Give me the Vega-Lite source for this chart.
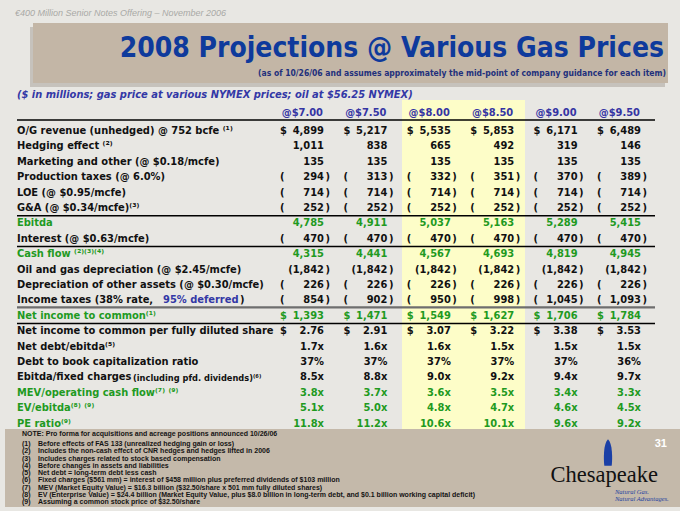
{
  "$schema": "https://vega.github.io/schema/vega-lite/v6.json",
  "width": 680,
  "height": 511,
  "autosize": "none",
  "padding": 0,
  "background": "#e8e7e3",
  "config": {"view": {"stroke": null}, "axis": {"disable": true}, "text": {"font": "DejaVu Sans Condensed, Roboto, sans-serif"}},
  "datasets": {
    "rows": [
      {"r":"r01","label":"O/G revenue (unhedged) @ 752 bcfe ⁽¹⁾","kind":"item","pre":"$","post":"","p700":"4,899","p750":"5,217","p800":"5,535","p850":"5,853","p900":"6,171","p950":"6,489"},
      {"r":"r02","label":"Hedging effect ⁽²⁾","kind":"item","pre":"","post":"","p700":"1,011","p750":"838","p800":"665","p850":"492","p900":"319","p950":"146"},
      {"r":"r03","label":"Marketing and other (@ $0.18/mcfe)","kind":"item","pre":"","post":"","p700":"135","p750":"135","p800":"135","p850":"135","p900":"135","p950":"135"},
      {"r":"r04","label":"Production taxes (@ 6.0%)","kind":"item","pre":"(","post":")","p700":"294","p750":"313","p800":"332","p850":"351","p900":"370","p950":"389"},
      {"r":"r05","label":"LOE (@ $0.95/mcfe)","kind":"item","pre":"(","post":")","p700":"714","p750":"714","p800":"714","p850":"714","p900":"714","p950":"714"},
      {"r":"r06","label":"G&A (@ $0.34/mcfe)⁽³⁾","kind":"item","pre":"(","post":")","p700":"252","p750":"252","p800":"252","p850":"252","p900":"252","p950":"252"},
      {"r":"r07","label":"Ebitda","kind":"total","pre":"","post":"","p700":"4,785","p750":"4,911","p800":"5,037","p850":"5,163","p900":"5,289","p950":"5,415"},
      {"r":"r08","label":"Interest (@ $0.63/mcfe)","kind":"item","pre":"(","post":")","p700":"470","p750":"470","p800":"470","p850":"470","p900":"470","p950":"470"},
      {"r":"r09","label":"Cash flow ⁽²⁾⁽³⁾⁽⁴⁾","kind":"total","pre":"","post":"","p700":"4,315","p750":"4,441","p800":"4,567","p850":"4,693","p900":"4,819","p950":"4,945"},
      {"r":"r10","label":"Oil and gas depreciation (@ $2.45/mcfe)","kind":"item","pre":"","post":")","p700":"(1,842","p750":"(1,842","p800":"(1,842","p850":"(1,842","p900":"(1,842","p950":"(1,842"},
      {"r":"r11","label":"Depreciation of other assets (@ $0.30/mcfe)","kind":"item","pre":"(","post":")","p700":"226","p750":"226","p800":"226","p850":"226","p900":"226","p950":"226"},
      {"r":"r12","label":"Income taxes (38% rate,","mid":"95% deferred","tail":")","kind":"item","pre":"(","post":")","p700":"854","p750":"902","p800":"950","p850":"998","p900":"1,045","p950":"1,093"},
      {"r":"r13","label":"Net income to common⁽¹⁾","kind":"total","pre":"$","post":"","p700":"1,393","p750":"1,471","p800":"1,549","p850":"1,627","p900":"1,706","p950":"1,784"},
      {"r":"r14","label":"Net income to common per fully diluted share","kind":"item","pre":"$","post":"","p700":"2.76","p750":"2.91","p800":"3.07","p850":"3.22","p900":"3.38","p950":"3.53"},
      {"r":"r15","label":"Net debt/ebitda⁽⁵⁾","kind":"item","pre":"","post":"","p700":"1.7x","p750":"1.6x","p800":"1.6x","p850":"1.5x","p900":"1.5x","p950":"1.5x"},
      {"r":"r16","label":"Debt to book capitalization ratio","kind":"item","pre":"","post":"","p700":"37%","p750":"37%","p800":"37%","p850":"37%","p900":"37%","p950":"36%"},
      {"r":"r17","label":"Ebitda/fixed charges","mid":"(including pfd. dividends)⁽⁶⁾","kind":"item","pre":"","post":"","p700":"8.5x","p750":"8.8x","p800":"9.0x","p850":"9.2x","p900":"9.4x","p950":"9.7x"},
      {"r":"r18","label":"MEV/operating cash flow⁽⁷⁾ ⁽⁹⁾","kind":"total","pre":"","post":"","p700":"3.8x","p750":"3.7x","p800":"3.6x","p850":"3.5x","p900":"3.4x","p950":"3.3x"},
      {"r":"r19","label":"EV/ebitda⁽⁸⁾ ⁽⁹⁾","kind":"total","pre":"","post":"","p700":"5.1x","p750":"5.0x","p800":"4.8x","p850":"4.7x","p900":"4.6x","p950":"4.5x"},
      {"r":"r20","label":"PE ratio⁽⁹⁾","kind":"total","pre":"","post":"","p700":"11.8x","p750":"11.2x","p800":"10.6x","p850":"10.1x","p900":"9.6x","p950":"9.2x"}
    ],
    "cols": [
      {"c":"p700","h":"@$7.00"},{"c":"p750","h":"@$7.50"},{"c":"p800","h":"@$8.00"},
      {"c":"p850","h":"@$8.50"},{"c":"p900","h":"@$9.00"},{"c":"p950","h":"@$9.50"}
    ],
    "notes": [
      {"n":"1","k":"(1)","t":"Before effects of FAS 133 (unrealized hedging gain or loss)"},
      {"n":"2","k":"(2)","t":"Includes the non-cash effect of CNR hedges and hedges lifted in 2006"},
      {"n":"3","k":"(3)","t":"Includes charges related to stock based compensation"},
      {"n":"4","k":"(4)","t":"Before changes in assets and liabilities"},
      {"n":"5","k":"(5)","t":"Net debt = long-term debt less cash"},
      {"n":"6","k":"(6)","t":"Fixed charges ($561 mm) = interest of $458 million plus preferred dividends of $103 million"},
      {"n":"7","k":"(7)","t":"MEV (Market Equity Value) = $16.3 billion ($32.50/share x 501 mm fully diluted shares)"},
      {"n":"8","k":"(8)","t":"EV (Enterprise Value)  = $24.4 billion (Market Equity Value, plus $8.0 billion in long-term debt, and $0.1 billion working capital deficit)"},
      {"n":"9","k":"(9)","t":"Assuming a common stock price of $32.50/share"}
    ],
    "lines": [{"after":"r06"},{"after":"r08"},{"after":"r13"}]
  },
  "resolve": {"scale": {"y": "independent"}},
  "layer": [
    {
      "layer": [
        {
          "data": {"values": [{"band":"title"}]},
          "mark": {"type":"rect","color":"#aaa49c","opacity":0.55,"xOffset":-294,"x2Offset":24,"yOffset":-104,"y2Offset":-44},
          "encoding": {
            "x": {"datum":"p700","type":"ordinal","scale":{"type":"point","domain":["p700","p750","p800","p850","p900","p950"],"range":[324,641],"padding":0}},
            "x2": {"datum":"p950"},
            "y": {"datum":"r01","type":"ordinal","scale":{"type":"point","domain":["r01","r02","r03","r04","r05","r06","r07","r08","r09","r10","r11","r12","r13","r14","r15","r16","r17","r18","r19","r20"],"range":[131,423.5],"padding":0}},
            "y2": {"datum":"r01"}
          }
        },
        {
          "data": {"values": [{"band":"title"}]},
          "mark": {"type":"rect","color":"#c3b6a6","xOffset":-291,"x2Offset":27,"yOffset":-108,"y2Offset":-48},
          "encoding": {"x": {"datum":"p700","type":"ordinal"},"x2": {"datum":"p950"},"y": {"datum":"r01","type":"ordinal"},"y2": {"datum":"r01"}}
        },
        {
          "data": {"values": [{"band":"highlight"}]},
          "mark": {"type":"rect","color":"#fdfdc8","xOffset":-48.8,"x2Offset":10.8,"yOffset":-31,"y2Offset":5.5},
          "encoding": {"x": {"datum":"p800","type":"ordinal"},"x2": {"datum":"p850"},"y": {"datum":"r01","type":"ordinal"},"y2": {"datum":"r20"}}
        },
        {
          "data": {"values": [{"band":"footer"}]},
          "mark": {"type":"rect","color":"#c4b9aa","xOffset":-319,"x2Offset":39,"yOffset":5.5,"y2Offset":83.5},
          "encoding": {"x": {"datum":"p700","type":"ordinal"},"x2": {"datum":"p950"},"y": {"datum":"r20","type":"ordinal"},"y2": {"datum":"r20"}}
        },
        {
          "data": {"values": [{"line":"header"}]},
          "mark": {"type":"rule","color":"#000000","strokeWidth":1.5,"xOffset":-307,"x2Offset":14,"yOffset":-11},
          "encoding": {"x": {"datum":"p700","type":"ordinal"},"x2": {"datum":"p950"},"y": {"datum":"r01","type":"ordinal"}}
        },
        {
          "data": {"name":"lines"},
          "mark": {"type":"rule","color":"#000000","strokeWidth":1.5,"xOffset":-307,"x2Offset":14,"yOffset":7.8},
          "encoding": {"x": {"datum":"p700","type":"ordinal"},"x2": {"datum":"p950"},"y": {"field":"after","type":"ordinal"}}
        },
        {
          "data": {"values": [{"after":"r12"}]},
          "mark": {"type":"rule","color":"#6e6e6e","strokeWidth":2.2,"xOffset":-307,"x2Offset":14,"yOffset":7},
          "encoding": {"x": {"datum":"p700","type":"ordinal"},"x2": {"datum":"p950"},"y": {"field":"after","type":"ordinal"}}
        },
        {
          "data": {"values": [{"t":"€400 Million Senior Notes Offering – November 2006"}]},
          "mark": {"type":"text","align":"left","baseline":"middle","dx":-309,"dy":-118,"fontSize":9,"fontStyle":"italic","font":"Liberation Sans","color":"#a9a9a6"},
          "encoding": {"x": {"datum":"p700","type":"ordinal"},"y": {"datum":"r01","type":"ordinal"},"text": {"field":"t"}}
        },
        {
          "data": {"values": [{"t":"2008 Projections @ Various Gas Prices"}]},
          "mark": {"type":"text","align":"right","baseline":"middle","dx":23,"dy":-82,"fontSize":28,"fontWeight":"bold","color":"#0e3a9c"},
          "encoding": {"x": {"datum":"p950","type":"ordinal"},"y": {"datum":"r01","type":"ordinal"},"text": {"field":"t"}}
        },
        {
          "data": {"values": [{"t":"(as of 10/26/06 and assumes approximately the mid-point of company guidance for each item)"}]},
          "mark": {"type":"text","align":"right","baseline":"middle","dx":25,"dy":-58,"fontSize":8.5,"fontWeight":"bold","color":"#22307c"},
          "encoding": {"x": {"datum":"p950","type":"ordinal"},"y": {"datum":"r01","type":"ordinal"},"text": {"field":"t"}}
        },
        {
          "data": {"values": [{"t":"($ in millions; gas price at various NYMEX prices; oil at $56.25 NYMEX)"}]},
          "mark": {"type":"text","align":"left","baseline":"middle","dx":-307,"dy":-36,"fontSize":11,"fontWeight":"bold","fontStyle":"italic","color":"#3338a6"},
          "encoding": {"x": {"datum":"p700","type":"ordinal"},"y": {"datum":"r01","type":"ordinal"},"text": {"field":"t"}}
        },
        {
          "data": {"name":"cols"},
          "mark": {"type":"text","align":"right","baseline":"middle","dx":-1,"dy":-18,"fontSize":11,"fontWeight":"bold","color":"#3535a3"},
          "encoding": {"x": {"field":"c","type":"ordinal"},"y": {"datum":"r01","type":"ordinal"},"text": {"field":"h"}}
        },
        {
          "data": {"name":"rows"},
          "mark": {"type":"text","align":"left","baseline":"middle","dx":-307,"fontSize":11,"fontWeight":"bold"},
          "encoding": {
            "x": {"datum":"p700","type":"ordinal"},
            "y": {"field":"r","type":"ordinal"},
            "text": {"field":"label"},
            "color": {"field":"kind","type":"nominal","scale":{"domain":["item","total"],"range":["#111111","#1f9a1f"]},"legend":null}
          }
        },
        {
          "data": {"name":"rows"},
          "transform": [{"filter":"datum.r == 'r12'"}],
          "mark": {"type":"text","align":"left","baseline":"middle","dx":-161,"fontSize":11,"fontWeight":"bold","color":"#3338a6"},
          "encoding": {"x": {"datum":"p700","type":"ordinal"},"y": {"field":"r","type":"ordinal"},"text": {"field":"mid"}}
        },
        {
          "data": {"name":"rows"},
          "transform": [{"filter":"datum.r == 'r12'"}],
          "mark": {"type":"text","align":"left","baseline":"middle","dx":-84,"fontSize":11,"fontWeight":"bold","color":"#111111"},
          "encoding": {"x": {"datum":"p700","type":"ordinal"},"y": {"field":"r","type":"ordinal"},"text": {"field":"tail"}}
        },
        {
          "data": {"name":"rows"},
          "transform": [{"filter":"datum.r == 'r17'"}],
          "mark": {"type":"text","align":"left","baseline":"middle","dx":-191,"dy":1,"fontSize":9.2,"fontWeight":"bold","color":"#111111"},
          "encoding": {"x": {"datum":"p700","type":"ordinal"},"y": {"field":"r","type":"ordinal"},"text": {"field":"mid"}}
        },
        {
          "data": {"name":"rows"},
          "transform": [{"fold":["p700","p750","p800","p850","p900","p950"],"as":["c","num"]}],
          "layer": [
            {
              "mark": {"type":"text","align":"left","baseline":"middle","dx":-44,"fontSize":11,"fontWeight":"bold"},
              "encoding": {"x": {"field":"c","type":"ordinal"},"y": {"field":"r","type":"ordinal"},"text": {"field":"pre"},
                "color": {"field":"kind","type":"nominal","scale":{"domain":["item","total"],"range":["#111111","#1f9a1f"]},"legend":null}}
            },
            {
              "mark": {"type":"text","align":"right","baseline":"middle","fontSize":11,"fontWeight":"bold"},
              "encoding": {"x": {"field":"c","type":"ordinal"},"y": {"field":"r","type":"ordinal"},"text": {"field":"num"},
                "color": {"field":"kind","type":"nominal","scale":{"domain":["item","total"],"range":["#111111","#1f9a1f"]},"legend":null}}
            },
            {
              "mark": {"type":"text","align":"left","baseline":"middle","dx":1.5,"fontSize":11,"fontWeight":"bold"},
              "encoding": {"x": {"field":"c","type":"ordinal"},"y": {"field":"r","type":"ordinal"},"text": {"field":"post"},
                "color": {"field":"kind","type":"nominal","scale":{"domain":["item","total"],"range":["#111111","#1f9a1f"]},"legend":null}}
            }
          ]
        },
        {
          "data": {"values": [{"t":"31"}]},
          "mark": {"type":"text","align":"right","baseline":"middle","dx":26,"dy":20.5,"fontSize":11,"fontWeight":"bold","font":"Liberation Sans","color":"#ffffff"},
          "encoding": {"x": {"datum":"p950","type":"ordinal"},"y": {"datum":"r20","type":"ordinal"},"text": {"field":"t"}}
        },
        {
          "data": {"values": [{"t":"flame"}]},
          "mark": {"type":"point","filled":true,"color":"#1a3fa6","opacity":1,"size":700,"shape":"M0,-1 C0.35,-0.7 0.34,0.5 0.28,1 L-0.28,1 C-0.34,0.5 -0.35,-0.7 0,-1 Z","xOffset":-33,"yOffset":29},
          "encoding": {"x": {"datum":"p950","type":"ordinal"},"y": {"datum":"r20","type":"ordinal"}}
        },
        {
          "data": {"values": [{"t":"Chesapeake"}]},
          "mark": {"type":"text","align":"right","baseline":"alphabetic","dx":17,"dy":58.5,"fontSize":22.5,"font":"Liberation Serif","color":"#111111"},
          "encoding": {"x": {"datum":"p950","type":"ordinal"},"y": {"datum":"r20","type":"ordinal"},"text": {"field":"t"}}
        },
        {
          "data": {"values": [{"t":"Natural Gas."}]},
          "mark": {"type":"text","align":"left","baseline":"middle","dx":-26,"dy":68.5,"fontSize":6.5,"fontStyle":"italic","font":"Liberation Serif","color":"#1f3fa0"},
          "encoding": {"x": {"datum":"p950","type":"ordinal"},"y": {"datum":"r20","type":"ordinal"},"text": {"field":"t"}}
        },
        {
          "data": {"values": [{"t":"Natural Advantages."}]},
          "mark": {"type":"text","align":"left","baseline":"middle","dx":-26,"dy":75.5,"fontSize":6.5,"fontStyle":"italic","font":"Liberation Serif","color":"#1f3fa0"},
          "encoding": {"x": {"datum":"p950","type":"ordinal"},"y": {"datum":"r20","type":"ordinal"},"text": {"field":"t"}}
        }
      ]
    },
    {
      "layer": [
        {
          "data": {"name":"notes"},
          "mark": {"type":"text","align":"left","baseline":"middle","dx":-302,"fontSize":7,"fontWeight":"bold","font":"Liberation Sans","color":"#141414"},
          "encoding": {
            "x": {"datum":"p700","type":"ordinal"},
            "y": {"field":"n","type":"ordinal","scale":{"type":"point","domain":["1","2","3","4","5","6","7","8","9"],"range":[444,502],"padding":0}},
            "text": {"field":"k"}
          }
        },
        {
          "data": {"name":"notes"},
          "mark": {"type":"text","align":"left","baseline":"middle","dx":-286,"fontSize":7,"fontWeight":"bold","font":"Liberation Sans","color":"#141414"},
          "encoding": {
            "x": {"datum":"p700","type":"ordinal"},
            "y": {"field":"n","type":"ordinal"},
            "text": {"field":"t"}
          }
        },
        {
          "data": {"values": [{"t":"NOTE: Pro forma for acquisitions and acreage positions announced 10/26/06"}]},
          "mark": {"type":"text","align":"left","baseline":"middle","dx":-302,"dy":-10,"fontSize":7,"fontWeight":"bold","font":"Liberation Sans","color":"#141414"},
          "encoding": {
            "x": {"datum":"p700","type":"ordinal"},
            "y": {"datum":"1","type":"ordinal"},
            "text": {"field":"t"}
          }
        }
      ]
    }
  ]
}
